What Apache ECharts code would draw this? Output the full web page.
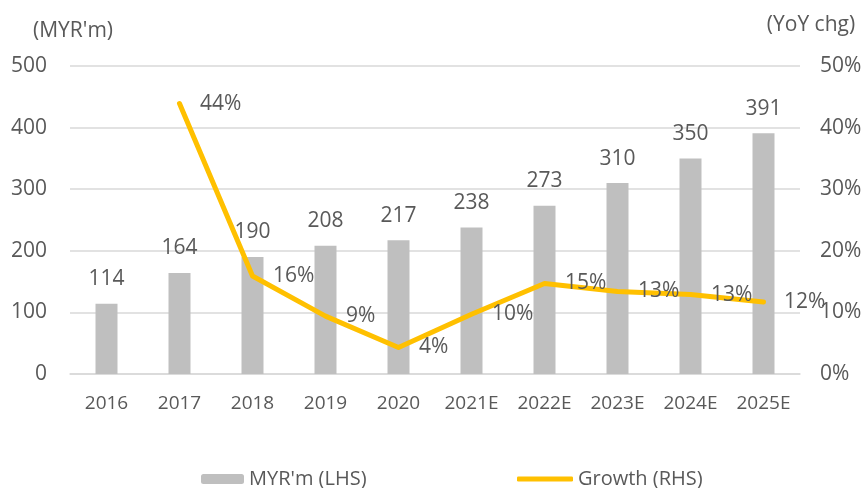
<!DOCTYPE html>
<html>
<head>
<meta charset="utf-8">
<script src="https://cdn.jsdelivr.net/npm/echarts@6/dist/echarts.min.js"></script>
<style>
  html, body { margin: 0; padding: 0; background: #fff; }
  #chart { width: 866px; height: 488px; }
</style>
</head>
<body>
<div id="chart"></div>
<script>
// data
var years = ['2016', '2017', '2018', '2019', '2020', '2021E', '2022E', '2023E', '2024E', '2025E']
var revenue = [114, 164, 190, 208, 217, 238, 273, 310, 350, 391]
var growth = [null, 43.9, 15.9, 9.4, 4.3, 9.7, 14.7, 13.4, 12.9, 11.7]
var leftTicks = [0, 100, 200, 300, 400, 500]
var rightTicks = [0, 10, 20, 30, 40, 50]

var font = 'Open Sans'
var textColor = '#595959'
var fs = 21

var chart = echarts.init(document.getElementById('chart'))
chart.setOption({
  animation: false,
  textStyle: { fontFamily: font },
  grid: { left: 70, right: 66, top: 66, bottom: 114 },
  legend: [{
    data: ["MYR'm (LHS)"],
    left: 196, top: 464,
    itemWidth: 43, itemHeight: 10,
    textStyle: { fontSize: 20, color: textColor, fontFamily: font }
  }, {
    data: [{ name: 'Growth (RHS)', icon: 'roundRect' }],
    left: 512, top: 464,
    itemWidth: 56, itemHeight: 5,
    textStyle: { fontSize: 20, color: textColor, fontFamily: font }
  }],
  xAxis: {
    type: 'category',
    data: years,
    axisLine: { lineStyle: { color: '#d9d9d9', width: 1.5 } },
    axisTick: { show: false },
    axisLabel: { fontSize: 19, color: textColor, margin: 20, interval: 0 }
  },
  yAxis: [{
    type: 'value',
    min: leftTicks[0], max: leftTicks[leftTicks.length - 1], interval: 100,
    name: "(MYR'm)",
    nameGap: 24,
    nameTextStyle: { fontSize: fs, color: textColor, padding: [0, 0, 0, 6] },
    axisLine: { show: false },
    axisTick: { show: false },
    axisLabel: { fontSize: fs, color: textColor, margin: 23 },
    splitLine: { lineStyle: { color: '#d9d9d9', width: 1.5 } }
  }, {
    type: 'value',
    min: rightTicks[0], max: rightTicks[rightTicks.length - 1], interval: 10,
    name: '(YoY chg)',
    nameGap: 30,
    nameTextStyle: { fontSize: fs, color: textColor, padding: [0, 0, 0, 22] },
    axisLine: { show: false },
    axisTick: { show: false },
    axisLabel: { fontSize: fs, color: textColor, margin: 20, formatter: '{value}%' },
    splitLine: { show: false }
  }],
  series: [{
    name: "MYR'm (LHS)",
    type: 'bar',
    data: revenue,
    barWidth: 22,
    itemStyle: { color: '#bfbfbf' },
    label: { show: true, position: 'top', distance: 14, fontSize: fs, color: textColor }
  }, {
    name: 'Growth (RHS)',
    type: 'line',
    yAxisIndex: 1,
    data: growth,
    symbol: 'circle',
    symbolSize: 1,
    showSymbol: true,
    lineStyle: { color: '#ffc000', width: 5, cap: 'round', join: 'round' },
    itemStyle: { color: '#ffc000' },
    label: {
      show: true, position: 'right', distance: 20, fontSize: fs, color: textColor,
      formatter: function (p) { return Math.round(p.value) + '%' }
    }
  }]
})
</script>
</body>
</html>
